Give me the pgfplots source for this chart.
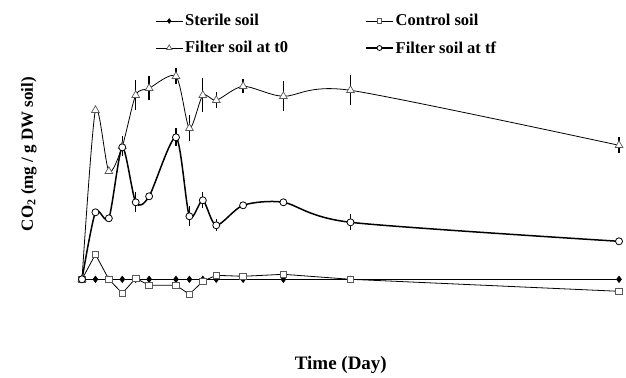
\documentclass[border=0pt]{standalone}
\usepackage{pgfplots}
\pgfplotsset{compat=1.18}
\usepackage{fontspec}
\setmainfont{Liberation Serif}
\begin{document}
\begin{tikzpicture}
\begin{axis}[
  scale only axis, width=537pt, height=270pt,
  xmin=0, xmax=40, ymin=-5, ymax=22,
  clip=false,
  axis line style={draw=none}, xtick=\empty, ytick=\empty,
  font=\bfseries,
  xlabel={\fontsize{19}{21}\selectfont\bfseries Time (Day)},
  ylabel={\fontsize{17}{20}\selectfont\bfseries CO\textsubscript{2} (mg / g DW soil)},
  xlabel style={at={(axis description cs:0.482,-0.133)}, anchor=center},
  ylabel style={at={(axis description cs:-0.099,0.649)}, anchor=center},
  legend columns=2,
  legend style={draw=none, fill=none, inner sep=0pt, row sep=10pt,
    font=\fontsize{16.5}{18}\selectfont\bfseries,
    at={(axis description cs:0.136,1.174)}, anchor=north west,
    /tikz/every even column/.append style={column sep=75pt}},
  legend cell align=left,
  legend image code/.code={\draw[mark repeat=2,mark phase=2, every mark/.append style={scale=0.7}] plot coordinates {(0pt,0pt)(13.5pt,0pt)(27pt,0pt)};},
]
\path[use as bounding box] (rel axis cs:-0.1527,-0.1656) rectangle (rel axis cs:1.0130,1.2196);
% Sterile soil
\addplot[black, line width=0.9pt, mark=diamond*, mark size=3pt, mark options={fill=black, draw=black}]
  coordinates {(0,0)(1,0)(2,0)(3,0)(4,0)(5,0)(7,0)(8,0)(9,0)(10,0)(12,0)(15,0)(20,0)(40,0)};
\addlegendentry{Sterile soil}
% Control soil
\addplot[black, line width=0.8pt, mark=square*, mark size=3.3pt, mark options={fill=white, draw=black!65, line width=0.7pt}]
  coordinates {(0,0)(1,2.5)(2,0)(3,-1.4)(4,0.1)(5,-0.6)(7,-0.6)(8,-1.5)(9,-0.2)(10,0.4)(12,0.3)(15,0.5)(20,0)(40,-1.2)};
\addlegendentry{Control soil}
% Filter soil at t0
\addplot[black, line width=0.8pt, smooth, tension=0.45, mark=triangle*, mark size=4.5pt,
  mark options={fill=white, draw=black!65, line width=0.7pt, solid},
  error bars/.cd, y dir=both, y explicit, error mark=none,
  error bar style={line width=1.3pt, black}]
  table[x=x, y=y, y error=e] {
x y e
0 0 0
1 16.9 0
2 10.8 0
3 13.3 1.0
4 18.4 1.5
5 19.1 1.2
7 20.3 0.8
8 15.1 1.3
9 18.4 1.7
10 17.9 0.8
12 19.3 0.7
15 18.3 1.5
20 18.9 1.5
40 13.4 0.8
};
\addlegendentry{Filter soil at t0}
% Filter soil at tf
\addplot[black, line width=1.5pt, smooth, tension=0.45, mark=*, mark size=3.5pt,
  mark options={fill=white, draw=black, line width=0.8pt, solid},
  error bars/.cd, y dir=both, y explicit, error mark=none,
  error bar style={line width=1.1pt, black}]
  table[x=x, y=y, y error=e] {
x y e
0 0 0
1 6.7 0
2 6.1 0
3 13.2 0.8
4 7.7 1.0
5 8.3 0.3
7 14.2 0.9
8 6.3 1.0
9 7.9 0.8
10 5.4 0.6
12 7.4 0
15 7.7 0
20 5.7 0.8
40 3.8 0
};
\addlegendentry{Filter soil at tf}
\end{axis}
\end{tikzpicture}
\end{document}
